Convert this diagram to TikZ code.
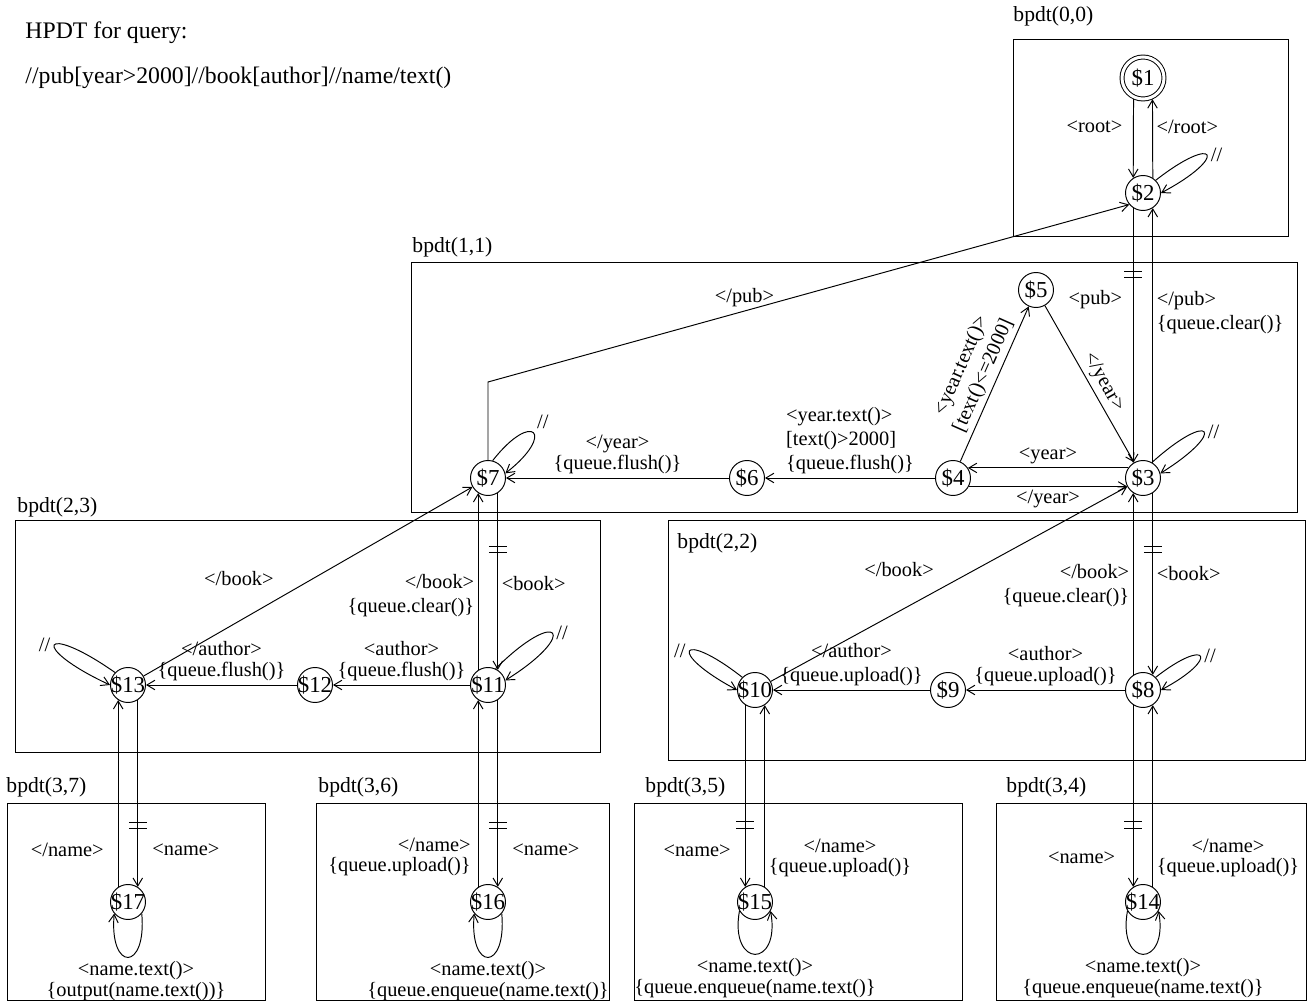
\documentclass[tikz,border=0pt]{standalone}
\usepackage{fontspec}
\setmainfont{Liberation Serif}
\usetikzlibrary{arrows.meta, positioning}

\begin{document}
\begin{tikzpicture}[
  font=\fontsize{11.6}{13.8}\selectfont,
  on grid,
  line width=0.55pt,
  st/.style={draw,circle,minimum size=0.7cm,inner sep=-1.5pt,font=\fontsize{13}{15}\selectfont},
  fin/.style={st,double,double distance=0.06cm,minimum size=0.84cm,outer sep=0.045cm},
  frame/.style={draw,anchor=north west,inner sep=0pt},
  tag/.style={anchor=base west,inner sep=0pt,font=\fontsize{12.3}{14}\selectfont},
  head/.style={anchor=base west,inner sep=0pt,font=\fontsize{13.5}{16}\selectfont},
  lbl/.style={inner sep=2pt},
  arrow/.style={-{Straight Barb[length=1.6mm,width=1.9mm]}},
  cut/.pic={\draw[-] (-0.18,0.065) -- (0.18,0.065) (-0.18,-0.065) -- (0.18,-0.065);}
]
  \useasboundingbox (0,0) rectangle (26.14,-20.10);

  \node[head] (title) at (0.5,-0.78) {HPDT for query:};
  \node[head] (query) at (0.5,-1.68) {//pub[year>2000]//book[author]//name/text()};

  \node[frame, minimum width=5.50cm, minimum height=3.94cm] (b00) at (20.26,-0.78) {};
  \node[frame, minimum width=17.72cm, minimum height=5.00cm] (b11) at (8.22,-5.24) {};
  \node[frame, minimum width=11.70cm, minimum height=4.64cm] (b23) at (0.30,-10.40) {};
  \node[frame, minimum width=12.74cm, minimum height=4.80cm] (b22) at (13.36,-10.40) {};
  \node[frame, minimum width=5.16cm, minimum height=3.94cm] (b37) at (0.14,-16.06) {};
  \node[frame, minimum width=5.86cm, minimum height=3.94cm] (b36) at (6.32,-16.06) {};
  \node[frame, minimum width=6.56cm, minimum height=3.94cm] (b35) at (12.68,-16.06) {};
  \node[frame, minimum width=6.20cm, minimum height=3.94cm] (b34) at (19.92,-16.06) {};

  \node[tag] (t00) at (20.26,-0.44) {bpdt(0,0)};
  \node[tag] (t11) at (8.24,-5.06) {bpdt(1,1)};
  \node[tag] (t23) at (0.34,-10.26) {bpdt(2,3)};
  \node[tag] (t22) at (13.54,-10.98) {bpdt(2,2)};
  \node[tag] (t37) at (0.12,-15.86) {bpdt(3,7)};
  \node[tag] (t36) at (6.36,-15.86) {bpdt(3,6)};
  \node[tag] (t35) at (12.90,-15.86) {bpdt(3,5)};
  \node[tag] (t34) at (20.12,-15.86) {bpdt(3,4)};

  \node[fin] (s1) at (22.86,-1.56) {\$1};
  \node[st, below=2.3cm of s1] (s2) {\$2};
  \node[st, below=5.7cm of s2] (s3) {\$3};
  \node[st, left=3.8cm of s3] (s4) {\$4};
  \node[st, above right=3.76cm and 1.66cm of s4] (s5) {\$5};
  \node[st, left=4.12cm of s4] (s6) {\$6};
  \node[st, left=5.18cm of s6] (s7) {\$7};
  \node[st, below=4.24cm of s3] (s8) {\$8};
  \node[st, left=3.9cm of s8] (s9) {\$9};
  \node[st, left=3.86cm of s9] (s10) {\$10};
  \node[st, below=4.14cm of s7] (s11) {\$11};
  \node[st, left=3.46cm of s11] (s12) {\$12};
  \node[st, left=3.74cm of s12] (s13) {\$13};
  \node[st, below=4.24cm of s8] (s14) {\$14};
  \node[st, below=4.24cm of s10] (s15) {\$15};
  \node[st, below=4.34cm of s11] (s16) {\$16};
  \node[st, below=4.34cm of s13] (s17) {\$17};
  \coordinate (pb) at (9.76,-7.64);

  \draw[arrow] (s1.-114) -- node[lbl,left=4pt,pos=.35]{<root>} (s2.123);
  \draw[arrow] (s2.57) -- node[lbl,right,pos=.65]{</root>} (s1.-66);
  \draw[arrow] (s2.45) .. controls +(38:1.55) and +(28:1.55) .. node[lbl,right]{//} (s2.0);
  \draw[arrow] (s2.-123) -- pic[pos=.26]{cut} node[lbl,left=4pt,pos=.36]{<pub>} (s3.123);
  \draw[arrow] (s3.57) -- node[lbl,right,align=left,pos=.59]{</pub>\\\{queue.clear()\}} (s2.-57);
  \draw[arrow] (s7.north) -- (pb) -- node[lbl,above,pos=.4]{</pub>} (s2.-140);

  \draw[arrow] (s3.60) .. controls +(42:1.6) and +(32:1.6) .. node[lbl,right]{//} (s3.15);
  \draw[arrow] (s3.146) -- node[lbl,above]{<year>} (s4.34);
  \draw[arrow] (s4.-28) -- node[lbl,below]{</year>} (s3.-152);
  \draw[arrow] (s4) -- node[lbl,sloped,above,align=center,pos=.52]{<year.text()>\\{}[text()<=2000]} (s5);
  \draw[arrow] (s5) -- node[lbl,sloped,above,pos=.53]{</year>} (s3);
  \draw[arrow] (s4) -- node[lbl,above,align=left]{<year.text()>\\{}[text()>2000]\\\{queue.flush()\}} (s6);
  \draw[arrow] (s6) -- node[lbl,above,align=center]{</year>\\[-2pt]\{queue.flush()\}} (s7);
  \draw[arrow] (s7.75) .. controls +(52:1.3) and +(38:1.3) .. node[lbl,anchor=south west]{//} (s7.15);

  \draw[arrow] (s8.123) -- node[lbl,left=0pt,align=right,pos=.49]{</book>\\\{queue.clear()\}} (s3.-123);
  \draw[arrow] (s3.-57) -- pic[pos=.31]{cut} node[lbl,right,pos=.44]{<book>} (s8.57);
  \draw[arrow] (s10) -- node[lbl,pos=.36,yshift=.84cm]{</book>} (s3);
  \draw[arrow] (s8.45) .. controls +(38:1.34) and +(28:1.34) .. node[lbl,right]{//} (s8.0);
  \draw[arrow] (s8) -- node[lbl,above,align=center]{<author>\\[-2pt]\{queue.upload()\}} (s9);
  \draw[arrow] (s9) -- node[lbl,above,align=center]{</author>\\\{queue.upload()\}} (s10);
  \draw[arrow] (s10.135) .. controls +(142:1.6) and +(152:1.6) .. node[lbl,left]{//} (s10.180);

  \draw[arrow] (s11.123) -- node[lbl,left=0pt,align=right,pos=.42]{</book>\\\{queue.clear()\}} (s7.-123);
  \draw[arrow] (s7.-57) -- pic[pos=.32]{cut} node[lbl,right,pos=.51]{<book>} (s11.57);
  \draw[arrow] (s13) -- node[lbl,pos=.29,yshift=.86cm]{</book>} (s7);
  \draw[arrow] (s11.65) .. controls +(45:1.78) and +(32:1.78) .. node[lbl,right]{//} (s11.15);
  \draw[arrow] (s11) -- node[lbl,above,align=center]{<author>\\[-2pt]\{queue.flush()\}} (s12);
  \draw[arrow] (s12) -- node[lbl,above,align=center]{</author>\\[-2pt]\{queue.flush()\}} (s13);
  \draw[arrow] (s13.136) .. controls +(145:1.8) and +(155:1.8) .. node[lbl,left]{//} (s13.180);

  \draw[arrow] (s17.123) -- node[lbl,left=6pt,pos=.2]{</name>} (s13.-123);
  \draw[arrow] (s13.-57) -- pic[pos=.67]{cut} node[lbl,right=6pt,pos=.8]{<name>} (s17.57);
  \draw[arrow] (s17.-40) .. controls +(-85:1.17) and +(-95:1.17) .. node[lbl,below,align=center,xshift=.16cm]{<name.text()>\\[-2pt]\{output(name.text())\}} (s17.-140);

  \draw[arrow] (s16.123) -- node[lbl,left=2pt,align=right,pos=.16]{</name>\\[-2pt]\{queue.upload()\}} (s11.-123);
  \draw[arrow] (s11.-57) -- pic[pos=.67]{cut} node[lbl,right=6pt,pos=.8]{<name>} (s16.57);
  \draw[arrow] (s16.-40) .. controls +(-85:1.17) and +(-95:1.17) .. node[lbl,below,align=center]{<name.text()>\\[-2pt]\{queue.enqueue(name.text()\}} (s16.-140);

  \draw[arrow] (s10.-123) -- pic[pos=.66]{cut} node[lbl,left=6pt,pos=.8]{<name>} (s15.123);
  \draw[arrow] (s15.57) -- node[lbl,right=0pt,align=center,pos=.16]{</name>\\[-2pt]\{queue.upload()\}} (s10.-57);
  \draw[arrow] (s15.-150) .. controls +(-100:1.17) and +(-80:1.17) .. node[lbl,below,align=center]{<name.text()>\\[-2pt]\{queue.enqueue(name.text()\}} (s15.-30);

  \draw[arrow] (s8.-123) -- pic[pos=.66]{cut} node[lbl,left=8pt,pos=.84]{<name>} (s14.123);
  \draw[arrow] (s14.57) -- node[lbl,right=0pt,align=center,pos=.16]{</name>\\[-2pt]\{queue.upload()\}} (s8.-57);
  \draw[arrow] (s14.-150) .. controls +(-100:1.17) and +(-80:1.17) .. node[lbl,below,align=center]{<name.text()>\\[-2pt]\{queue.enqueue(name.text()\}} (s14.-30);
\end{tikzpicture}
\end{document}
